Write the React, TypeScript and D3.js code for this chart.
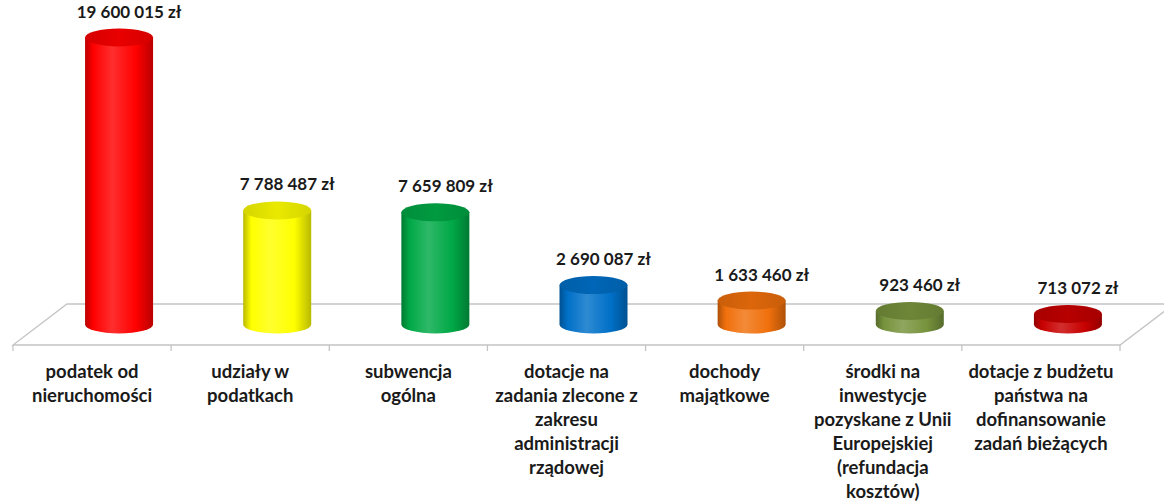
import React from "react";
import * as d3 from "d3";

const categories: string[] = [
  "podatek od\nnieruchomości",
  "udziały w\npodatkach",
  "subwencja\nogólna",
  "dotacje na\nzadania zlecone z\nzakresu\nadministracji\nrządowej",
  "dochody\nmajątkowe",
  "środki na\ninwestycje\npozyskane z Unii\nEuropejskiej\n(refundacja\nkosztów)",
  "dotacje z budżetu\npaństwa na\ndofinansowanie\nzadań bieżących",
];
const values: number[] = [19600015, 7788487, 7659809, 2690087, 1633460, 923460, 713072];
const colors: string[] = ["#ff0000", "#ffff00", "#00a846", "#0070c8", "#f0700c", "#77933c", "#c80000"];

const W = 1164;
const H = 502;
const frontY = 345;
const left = 13;
const right = 1120;
const depthX = 54;
const depthY = -41;
const cylW = 68;
const ry = 9;

const fmt = (v: number) => d3.format(",")(v).replace(/,/g, " ") + " zł";

export default function App() {
  const x = d3.scaleBand<number>().domain(d3.range(categories.length)).range([left, right]).padding(0);
  const h = d3.scaleLinear().domain([0, 19600015]).range([0, 287]);
  const baseY = frontY + depthY / 2;
  const fontFam = "Lato, 'Open Sans', sans-serif";

  const floor = [
    [left, frontY],
    [right, frontY],
    [right + depthX, frontY + depthY],
    [left + depthX, frontY + depthY],
  ];

  return (
    <svg width={W} height={H} style={{ position: "absolute", left: 0, top: 0, background: "#fff" }}>
      <defs>
        {colors.map((c, i) => {
          const col = d3.color(c)!;
          const dark = d3.color(c)!.darker(0.9).formatHex();
          const light = d3.interpolateRgb(c, "#ffffff")(0.18);
          return (
            <React.Fragment key={i}>
              <linearGradient id={`g${i}`} x1="0" x2="1" y1="0" y2="0">
                <stop offset="0" stopColor={dark} />
                <stop offset="0.12" stopColor={col.formatHex()} />
                <stop offset="0.4" stopColor={light} />
                <stop offset="0.75" stopColor={col.formatHex()} />
                <stop offset="1" stopColor={dark} />
              </linearGradient>
              <linearGradient id={`t${i}`} x1="0" x2="1" y1="0" y2="0">
                <stop offset="0" stopColor={d3.color(c)!.darker(0.5).formatHex()} />
                <stop offset="0.5" stopColor={d3.color(c)!.darker(0.25).formatHex()} />
                <stop offset="1" stopColor={d3.color(c)!.darker(0.5).formatHex()} />
              </linearGradient>
            </React.Fragment>
          );
        })}
      </defs>
      <polygon points={floor.map((p) => p.join(",")).join(" ")} fill="#fff" stroke="#c4c4c4" strokeWidth={1.3} />
      {d3.range(categories.length + 1).map((i) => {
        const tx = i < categories.length ? x(i)! : right;
        return <line key={i} x1={tx} x2={tx} y1={frontY} y2={frontY + 6} stroke="#c4c4c4" strokeWidth={1.3} />;
      })}
      {values.map((v, i) => {
        const cx = x(i)! + x.bandwidth() / 2 + depthX / 2;
        const topY = baseY - h(v);
        const x0 = cx - cylW / 2;
        const x1 = cx + cylW / 2;
        const body = `M${x0},${topY} L${x0},${baseY} A${cylW / 2},${ry} 0 0 0 ${x1},${baseY} L${x1},${topY} Z`;
        return (
          <g key={i}>
            <path d={body} fill={`url(#g${i})`} />
            <ellipse cx={cx} cy={topY} rx={cylW / 2} ry={ry} fill={`url(#t${i})`} />
            <text
              x={cx + 10}
              y={topY - ry - 11}
              textAnchor="middle"
              fontFamily={fontFam}
              fontWeight="bold"
              fontSize={17}
              fill="#1a1a1a"
            >
              {fmt(v)}
            </text>
          </g>
        );
      })}
      {categories.map((c, i) => {
        const cx = x(i)! + x.bandwidth() / 2;
        return (
          <text key={i} textAnchor="middle" fontFamily={fontFam} fontWeight="bold" fontSize={18.5} fill="#1a1a1a">
            {c.split("\n").map((line, j) => (
              <tspan key={j} x={cx} y={378 + j * 24}>
                {line}
              </tspan>
            ))}
          </text>
        );
      })}
    </svg>
  );
}
